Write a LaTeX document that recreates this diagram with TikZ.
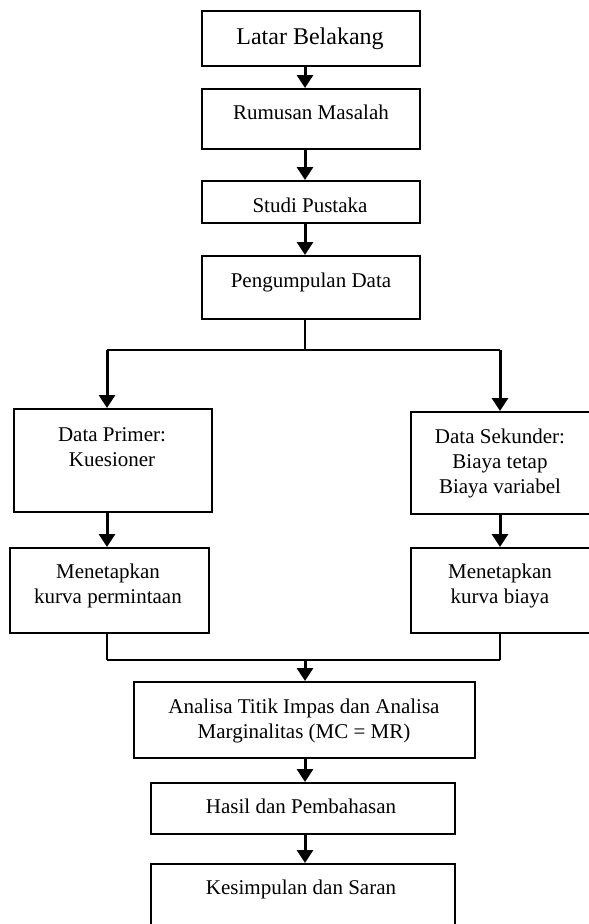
\documentclass[tikz,border=0pt]{standalone}
\usepackage{fontspec}
\setmainfont{Liberation Serif}
\usetikzlibrary{arrows.meta}
\tikzset{
  box/.style={draw, line width=2pt, rectangle, anchor=north west, inner sep=0pt},
  txt/.style={anchor=base, align=center, inner sep=0pt, font=\fontsize{21}{25}\selectfont},
  arr/.style={line width=3pt, -{Triangle[length=13pt,width=16pt]}},
  link/.style={line width=2pt},
}
\begin{document}
\begin{tikzpicture}[x=1pt,y=-1pt]
      \useasboundingbox (0,0) rectangle (589,924);
      % boxes
      \node[box, minimum width=218pt, minimum height=55pt] (latar) at (201,10) {};
      \node[box, minimum width=218pt, minimum height=60pt] (rumusan) at (201,88) {};
      \node[box, minimum width=218pt, minimum height=42pt] (studi) at (201,180) {};
      \node[box, minimum width=218pt, minimum height=63pt] (kumpul) at (201,255) {};
      \node[box, minimum width=198pt, minimum height=103pt] (primer) at (13,408) {};
      \node[box, minimum width=181pt, minimum height=102pt] (sekunder) at (410,411) {};
      \node[box, minimum width=199pt, minimum height=85pt] (minta) at (9,547) {};
      \node[box, minimum width=181pt, minimum height=85pt] (biaya) at (410,547) {};
      \node[box, minimum width=341pt, minimum height=76pt] (analisa) at (133,681) {};
      \node[box, minimum width=304pt, minimum height=51pt] (hasil) at (150,782) {};
      \node[box, minimum width=304pt, minimum height=63pt] (simpul) at (150,863) {};
      % texts (base = last line)
      \node[txt, font=\fontsize{24}{28}\selectfont] (t-latar) at (310,44) {Latar Belakang};
      \node[txt] (t-rumusan) at (311,119) {Rumusan Masalah};
      \node[txt] (t-studi) at (310,212) {Studi Pustaka};
      \node[txt] (t-kumpul) at (311,287) {Pengumpulan Data};
      \node[txt] (t-primer) at (112,466) {Data Primer:\\Kuesioner};
      \node[txt] (t-sekunder) at (500,493) {Data Sekunder:\\Biaya tetap\\Biaya variabel};
      \node[txt] (t-minta) at (108,603) {Menetapkan\\kurva permintaan};
      \node[txt] (t-biaya) at (500,603) {Menetapkan\\kurva biaya};
      \node[txt] (t-analisa) at (304,738) {Analisa Titik Impas dan Analisa\\Marginalitas (MC = MR)};
      \node[txt] (t-hasil) at (301,813) {Hasil dan Pembahasan};
      \node[txt] (t-simpul) at (301,894) {Kesimpulan dan Saran};
      % columns and joints
      \coordinate (colM) at (305,0);
      \coordinate (colL) at (107,0);
      \coordinate (colR) at (500,0);
      \coordinate (split) at (305,350);
      \coordinate (merge) at (305,660);
      \begin{scope}[arr]
        \draw (latar.south -| colM) to (rumusan.north -| colM);
        \draw (rumusan.south -| colM) to (studi.north -| colM);
        \draw (studi.south -| colM) to (kumpul.north -| colM);
        \draw (colL |- split) to (colL |- primer.north);
        \draw (colR |- split) to (colR |- sekunder.north);
        \draw (primer.south -| colL) to (minta.north -| colL);
        \draw (sekunder.south -| colR) to (biaya.north -| colR);
        \draw (merge) to (analisa.north -| merge);
        \draw (analisa.south -| colM) to (hasil.north -| colM);
        \draw (hasil.south -| colM) to (simpul.north -| colM);
      \end{scope}
      \begin{scope}[link]
        \draw (kumpul.south -| split) to (split);
        \draw (colL |- split) to (colR |- split);
        \draw (minta.south -| colL) to (colL |- merge);
        \draw (biaya.south -| colR) to (colR |- merge);
        \draw (colL |- merge) to (colR |- merge);
      \end{scope}
    \end{tikzpicture}
\end{document}
